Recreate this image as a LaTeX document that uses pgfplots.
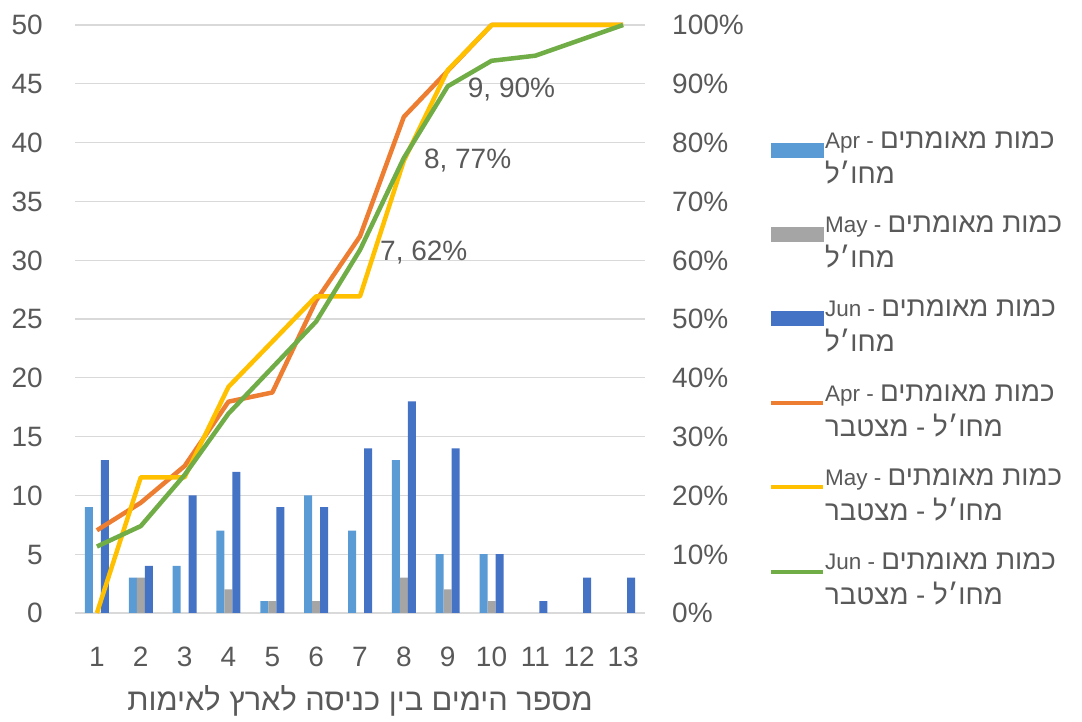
\documentclass[border=0pt]{standalone}
\usepackage{fontspec}
\setmainfont{Liberation Sans}
\newfontfamily\heb[Script=Hebrew,Scale=1.23]{Liberation Sans}
\TeXXeTstate=1
\usepackage{pgfplots}
\pgfplotsset{compat=1.18}
\definecolor{cA}{HTML}{5B9BD5}
\definecolor{cB}{HTML}{A5A5A5}
\definecolor{cC}{HTML}{4472C4}
\definecolor{lA}{HTML}{ED7D31}
\definecolor{lB}{HTML}{FFC000}
\definecolor{lC}{HTML}{70AD47}
\definecolor{txt}{HTML}{595959}
\definecolor{grd}{HTML}{D9D9D9}
\newcommand{\tfont}{\fontsize{28}{28}\selectfont}
\newcommand{\lfont}{\fontsize{22.5}{35}\selectfont}
\begin{document}
\begin{tikzpicture}[x=1pt,y=1pt]
\useasboundingbox (0,0) rectangle (1082,722);
\begin{axis}[
  at={(75pt,109pt)}, anchor=south west,
  scale only axis, width=570pt, height=588pt,
  xmin=0.5, xmax=13.5, ymin=0, ymax=50,
  xtick={1,...,13}, ytick={0,5,...,50},
  ybar=0pt, bar width=8pt,
  ymajorgrids, grid style={grd, line width=1.3pt},
  axis x line*=bottom, axis y line*=left,
  x axis line style={draw=none}, y axis line style={draw=none},
  major tick length=0pt, tick style={draw=none},
  /pgf/number format/assume math mode=true,
  yticklabel style={font=\tfont, text=txt, inner sep=0pt, anchor=base east, xshift=-32pt, yshift=-10pt},
  xticklabel style={font=\tfont, text=txt, inner sep=0pt, anchor=base, yshift=-54pt},
  xlabel={\heb\beginR מספר הימים בין כניסה לארץ לאימות\endR},
  xlabel style={at={(axis description cs:0.5,0)}, anchor=base, inner sep=0pt, yshift=-98pt, font=\fontsize{25}{25}\selectfont, text=txt},
]
\addplot[fill=cA, draw=none] coordinates {(1,9)(2,3)(3,4)(4,7)(5,1)(6,10)(7,7)(8,13)(9,5)(10,5)};
\addplot[fill=cB, draw=none] coordinates {(2,3)(4,2)(5,1)(6,1)(8,3)(9,2)(10,1)};
\addplot[fill=cC, draw=none] coordinates {(1,13)(2,4)(3,10)(4,12)(5,9)(6,9)(7,14)(8,18)(9,14)(10,5)(11,1)(12,3)(13,3)};
\end{axis}
\begin{axis}[
  at={(75pt,109pt)}, anchor=south west,
  scale only axis, width=570pt, height=588pt,
  xmin=0.5, xmax=13.5, ymin=0, ymax=100,
  clip=false,
  axis x line=none, axis y line*=right,
  y axis line style={draw=none},
  major tick length=0pt, tick style={draw=none},
  ytick={0,10,...,100},
  yticklabel={\pgfmathprintnumber{\tick}\%},
  /pgf/number format/assume math mode=true,
  yticklabel style={font=\tfont, text=txt, inner sep=0pt, anchor=base west, xshift=27pt, yshift=-10pt},
  legend style={at={(1.212,0.823)}, anchor=north west, draw=none, fill=none,
    font=\lfont, text=txt, row sep=31pt, cells={align=left},
    nodes={inner sep=0pt},
    /tikz/every even column/.append style={column sep=7pt}},
  legend cell align=left,
]
\addlegendimage{legend image code/.code={\fill[cA] (0pt,1pt) rectangle (52pt,15pt);}}
\addlegendentry{Apr - {\heb\beginR כמות מאומתים\endR}\\{\heb מחו׳ל}}
\addlegendimage{legend image code/.code={\fill[cB] (0pt,1pt) rectangle (52pt,15pt);}}
\addlegendentry{May - {\heb\beginR כמות מאומתים\endR}\\{\heb מחו׳ל}}
\addlegendimage{legend image code/.code={\fill[cC] (0pt,1pt) rectangle (52pt,15pt);}}
\addlegendentry{Jun - {\heb\beginR כמות מאומתים\endR}\\{\heb מחו׳ל}}
\addlegendimage{legend image code/.code={\draw[lA, line width=4pt] (0pt,8pt) -- (52pt,8pt);}}
\addlegendentry{Apr - {\heb\beginR כמות מאומתים\endR}\\{\heb\beginR מחו׳ל - מצטבר\endR}}
\addlegendimage{legend image code/.code={\draw[lB, line width=4pt] (0pt,8pt) -- (52pt,8pt);}}
\addlegendentry{May - {\heb\beginR כמות מאומתים\endR}\\{\heb\beginR מחו׳ל - מצטבר\endR}}
\addlegendimage{legend image code/.code={\draw[lC, line width=4pt] (0pt,8pt) -- (52pt,8pt);}}
\addlegendentry{Jun - {\heb\beginR כמות מאומתים\endR}\\{\heb\beginR מחו׳ל - מצטבר\endR}}
\addplot[lA, line width=4.5pt, line join=round, mark=none, forget plot] coordinates {(1,14.06)(2,18.75)(3,25)(4,35.94)(5,37.5)(6,53.13)(7,64.06)(8,84.38)(9,92.19)(10,100)(11,100)(12,100)(13,100)};
\addplot[lB, line width=4.5pt, line join=round, mark=none, forget plot] coordinates {(1,0)(2,23.08)(3,23.08)(4,38.46)(5,46.15)(6,53.85)(7,53.85)(8,76.92)(9,92.31)(10,100)(11,100)(12,100)(13,100)};
\addplot[lC, line width=4.5pt, line join=round, mark=none, forget plot] coordinates {(1,11.30)(2,14.78)(3,23.48)(4,33.91)(5,41.74)(6,49.57)(7,61.74)(8,77.39)(9,89.57)(10,93.91)(11,94.78)(12,97.39)(13,100)};
\addplot[draw=none, mark=none, forget plot, nodes near coords, point meta=explicit symbolic,
  nodes near coords style={anchor=west, font=\tfont, text=txt, inner sep=0pt, xshift=20pt, yshift=-3pt}]
  table[meta=lab, col sep=semicolon] {
x;y;lab
7;61.74;7, 62\%
8;77.39;8, 77\%
9;89.57;9, 90\%
};
\end{axis}
\end{tikzpicture}
\end{document}
